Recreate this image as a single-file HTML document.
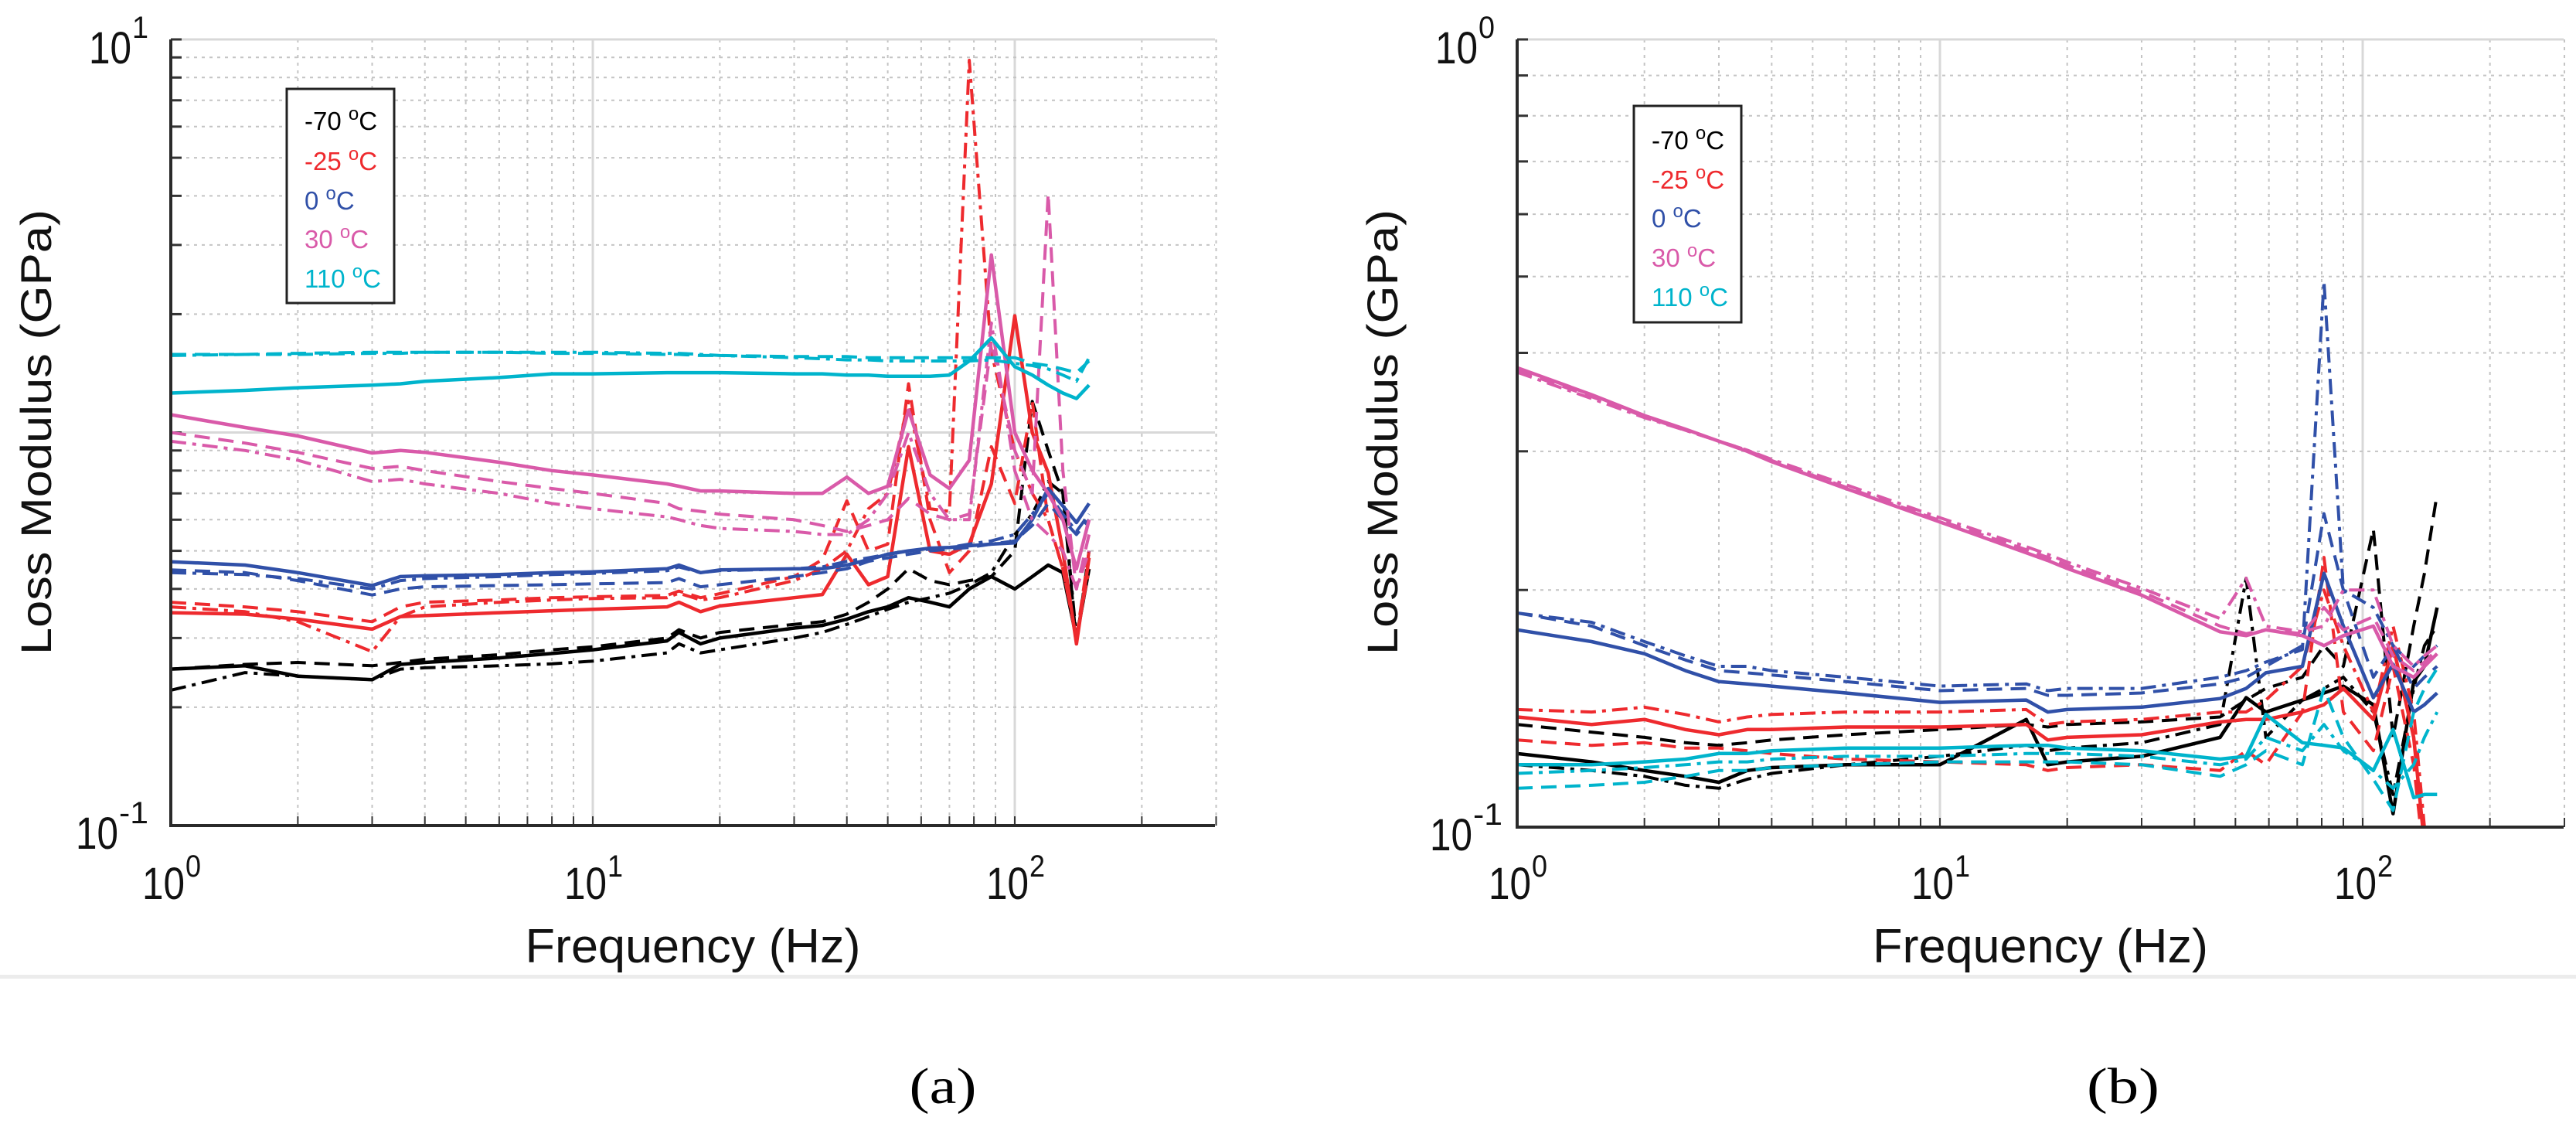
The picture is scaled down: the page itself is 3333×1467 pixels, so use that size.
<!DOCTYPE html>
<html><head><meta charset="utf-8"><style>
html,body{margin:0;padding:0;background:#fff;}
svg{display:block;}
text{font-family:"Liberation Sans",sans-serif;}
</style></head><body>
<svg id="fig" width="3333" height="1467" viewBox="0 0 3333 1467" xmlns="http://www.w3.org/2000/svg">
<rect x="0" y="1261" width="3333" height="5" fill="#ececec"/>
<text x="1220" y="1427" font-family="Liberation Serif, serif" font-size="66" text-anchor="middle" textLength="87" lengthAdjust="spacingAndGlyphs" style="font-family:'Liberation Serif',serif">(a)</text>
<text x="2747" y="1427" font-size="66" text-anchor="middle" textLength="94" lengthAdjust="spacingAndGlyphs" style="font-family:'Liberation Serif',serif">(b)</text>
</svg>
<script>
// ---------- Panel (a) data ----------
const freqA = [1,1.5,2,3,3.5,4,6,8,10,15,16,18,20,30,35,40,45,50,56,63,70,78,88,100,110,120,130,140,150];
const aK0 = [0.25,0.255,0.24,0.235,0.257,0.26,0.267,0.274,0.28,0.295,0.31,0.29,0.3,0.318,0.323,0.335,0.35,0.36,0.38,0.37,0.36,0.4,0.43,0.40,0.43,0.46,0.44,0.30,0.45];
const aK1 = [0.25,0.257,0.26,0.255,0.26,0.265,0.272,0.28,0.285,0.30,0.315,0.3,0.31,0.325,0.33,0.345,0.37,0.40,0.45,0.42,0.41,0.42,0.43,0.5,1.2,0.9,0.7,0.29,0.5];
const aK2 = [0.221,0.245,0.24,0.235,0.25,0.252,0.255,0.258,0.262,0.275,0.29,0.275,0.28,0.3,0.31,0.325,0.34,0.355,0.37,0.38,0.39,0.41,0.44,0.55,0.62,0.75,0.7,0.3,0.45];
const aR0 = [0.348,0.345,0.335,0.316,0.34,0.342,0.348,0.352,0.355,0.36,0.37,0.35,0.362,0.38,0.387,0.49,0.41,0.43,0.92,0.5,0.49,0.52,0.74,1.98,1.0,0.79,0.5,0.29,0.48];
const aR1 = [0.37,0.36,0.35,0.33,0.36,0.37,0.375,0.38,0.382,0.385,0.395,0.38,0.389,0.43,0.475,0.67,0.5,0.52,1.33,0.6,0.44,0.5,0.92,0.66,1.2,0.6,0.45,0.3,0.5];
const aR2 = [0.36,0.35,0.33,0.277,0.34,0.36,0.37,0.375,0.378,0.38,0.39,0.375,0.38,0.42,0.45,0.5,0.64,0.7,1.2,0.64,0.63,8.85,1.6,0.9,0.7,0.6,0.45,0.3,0.45];
const aB0 = [0.469,0.46,0.44,0.408,0.43,0.432,0.435,0.44,0.442,0.45,0.46,0.44,0.447,0.45,0.45,0.46,0.475,0.49,0.50,0.508,0.51,0.515,0.52,0.524,0.6,0.72,0.65,0.59,0.66];
const aB1 = [0.447,0.44,0.42,0.386,0.40,0.405,0.408,0.41,0.412,0.415,0.425,0.405,0.41,0.43,0.44,0.45,0.47,0.48,0.49,0.5,0.505,0.51,0.52,0.53,0.58,0.66,0.6,0.55,0.6];
const aB2 = [0.44,0.435,0.425,0.40,0.42,0.425,0.43,0.435,0.438,0.445,0.455,0.44,0.445,0.45,0.455,0.47,0.48,0.49,0.5,0.505,0.51,0.52,0.53,0.55,0.62,0.7,0.62,0.56,0.62];
const aP0 = [1.11,1.03,0.98,0.887,0.9,0.89,0.84,0.80,0.78,0.74,0.73,0.71,0.71,0.70,0.70,0.77,0.70,0.73,1.14,0.78,0.72,0.85,2.83,1.0,0.8,0.7,0.6,0.45,0.6];
const aP1 = [1.0,0.94,0.89,0.81,0.82,0.80,0.75,0.72,0.70,0.66,0.64,0.63,0.62,0.60,0.58,0.56,0.58,0.60,0.68,0.62,0.6,0.62,1.7,0.9,0.7,4.05,0.8,0.4,0.55];
const aP2 = [0.95,0.90,0.85,0.75,0.76,0.74,0.70,0.66,0.64,0.61,0.60,0.58,0.57,0.56,0.55,0.55,0.6,0.7,1.0,0.7,0.6,0.6,1.9,0.8,0.6,0.55,0.5,0.4,0.5];
const aC0 = [1.26,1.28,1.30,1.32,1.33,1.35,1.38,1.41,1.41,1.42,1.42,1.42,1.42,1.41,1.41,1.40,1.40,1.39,1.39,1.39,1.40,1.52,1.74,1.47,1.40,1.32,1.26,1.22,1.32];
const aC1 = [1.58,1.58,1.59,1.60,1.60,1.60,1.60,1.59,1.59,1.58,1.58,1.57,1.57,1.56,1.56,1.56,1.55,1.55,1.55,1.55,1.55,1.55,1.55,1.55,1.50,1.48,1.45,1.42,1.52];
const aC2 = [1.57,1.58,1.58,1.59,1.59,1.60,1.60,1.60,1.60,1.59,1.59,1.58,1.57,1.55,1.54,1.53,1.53,1.52,1.52,1.52,1.52,1.52,1.53,1.50,1.48,1.45,1.40,1.35,1.55];
// ---------- Panel (b) data ----------
const freqB = [1,1.5,2,2.5,3,3.5,4,6,10,16,18,20,30,46,53,59,72,81,90,106,118,132,140,150];
const bK0 = [0.124,0.121,0.118,0.116,0.114,0.118,0.119,0.12,0.12,0.137,0.12,0.121,0.123,0.13,0.146,0.14,0.145,0.148,0.151,0.143,0.104,0.153,0.16,0.19];
const bK1 = [0.135,0.132,0.13,0.128,0.127,0.128,0.129,0.131,0.133,0.135,0.134,0.135,0.136,0.138,0.145,0.15,0.155,0.17,0.16,0.239,0.13,0.18,0.21,0.265];
const bK2 = [0.12,0.118,0.116,0.113,0.112,0.115,0.117,0.12,0.123,0.127,0.125,0.126,0.128,0.135,0.207,0.13,0.145,0.15,0.155,0.14,0.11,0.15,0.17,0.18];
const bR0 = [0.138,0.135,0.137,0.133,0.131,0.133,0.133,0.134,0.134,0.135,0.129,0.13,0.131,0.136,0.137,0.137,0.14,0.143,0.15,0.137,0.17,0.13,0.095,0.09];
const bR1 = [0.129,0.127,0.128,0.126,0.126,0.125,0.124,0.122,0.121,0.12,0.118,0.119,0.12,0.118,0.125,0.12,0.14,0.22,0.14,0.125,0.16,0.12,0.09,0.09];
const bR2 = [0.141,0.14,0.142,0.139,0.136,0.138,0.139,0.14,0.14,0.141,0.135,0.136,0.137,0.14,0.14,0.145,0.16,0.2,0.17,0.14,0.18,0.14,0.1,0.09];
const bB0 = [0.178,0.172,0.166,0.158,0.153,0.152,0.151,0.148,0.144,0.145,0.14,0.141,0.142,0.1456,0.15,0.157,0.16,0.21,0.18,0.146,0.161,0.14,0.143,0.148];
const bB1 = [0.187,0.18,0.17,0.163,0.158,0.157,0.156,0.153,0.149,0.15,0.147,0.147,0.148,0.152,0.155,0.16,0.17,0.25,0.2,0.155,0.17,0.15,0.155,0.16];
const bB2 = [0.187,0.182,0.172,0.165,0.16,0.16,0.158,0.155,0.151,0.152,0.149,0.15,0.15,0.155,0.158,0.162,0.168,0.493,0.2,0.19,0.17,0.16,0.165,0.17];
const bP0 = [0.383,0.354,0.333,0.320,0.309,0.300,0.291,0.269,0.244,0.223,0.218,0.213,0.197,0.177,0.175,0.178,0.175,0.17,0.175,0.18,0.16,0.155,0.16,0.166];
const bP1 = [0.380,0.352,0.332,0.319,0.309,0.301,0.292,0.270,0.245,0.225,0.220,0.215,0.199,0.180,0.176,0.178,0.176,0.19,0.178,0.185,0.165,0.158,0.162,0.168];
const bP2 = [0.378,0.350,0.331,0.319,0.309,0.301,0.293,0.272,0.247,0.227,0.222,0.217,0.201,0.184,0.207,0.18,0.177,0.18,0.2,0.2,0.17,0.16,0.165,0.17];
const bC0 = [0.12,0.12,0.121,0.122,0.124,0.124,0.125,0.126,0.126,0.127,0.127,0.126,0.125,0.122,0.123,0.139,0.128,0.127,0.126,0.118,0.133,0.109,0.11,0.11];
const bC1 = [0.112,0.113,0.114,0.116,0.118,0.118,0.119,0.12,0.121,0.121,0.121,0.121,0.12,0.116,0.12,0.125,0.12,0.15,0.13,0.115,0.105,0.14,0.15,0.159];
const bC2 = [0.117,0.118,0.119,0.12,0.121,0.121,0.122,0.123,0.123,0.124,0.124,0.124,0.123,0.12,0.122,0.13,0.125,0.135,0.125,0.118,0.112,0.12,0.13,0.14];
const legendLabels = ['-70','-25','0','30','110'];
const xTickExps = ['0','1','2'];

const NS='http://www.w3.org/2000/svg';
const svg=document.getElementById('fig');
const COLORS=['#000000','#ee2a2e','#3050a8','#d95aa9','#00b4cc'];
const DASH=['none','20,11','20,8,5,8'];
function mk(tag,attrs,parent){const e=document.createElementNS(NS,tag);for(const k in attrs)e.setAttribute(k,attrs[k]);(parent||svg).appendChild(e);return e;}

function panel(cfg){
  const g=mk('g',{});
  
  
  const xS=f=>cfg.x0+cfg.xDec*Math.log10(f);
  const yS=v=>cfg.y1-cfg.yDec*(Math.log10(v)-cfg.yMinExp);
  const xEnd=cfg.x1;
  // grid
  for(let k=0;k<=2;k++)for(let m=1;m<=9;m++){const f=m*Math.pow(10,k);if(f>300)continue;const x=xS(f);
    const l=mk('line',{x1:x,x2:x,y1:cfg.top,y2:cfg.y1,stroke:m===1?'#d8d8d8':'#c4c4c4','stroke-width':m===1?3:2,'stroke-dasharray':m===1?'none':'4,6'},g);
    
    
    const t=mk('line',{x1:x,x2:x,y1:cfg.y1,y2:cfg.y1-12,stroke:'#333','stroke-width':2},g);
    
    
  }
  for(let k=cfg.yMinExp;k<=cfg.yMaxExp;k++)for(let m=1;m<=9;m++){const v=m*Math.pow(10,k);if(Math.log10(v)>cfg.yMaxExp+1e-9)continue;const y=yS(v);
    const l=mk('line',{x1:cfg.x0,x2:xEnd,y1:y,y2:y,stroke:m===1?'#d8d8d8':'#c4c4c4','stroke-width':m===1?3:2,'stroke-dasharray':m===1?'none':'4,6'},g);
    
    
    const t=mk('line',{x1:cfg.x0,x2:cfg.x0+14,y1:y,y2:y,stroke:'#333','stroke-width':3},g);
    
    
  }
  // clip
  const cp=mk('clipPath',{id:cfg.name+'-clip'},g);
  mk('rect',{x:cfg.x0,y:cfg.top,width:xEnd-cfg.x0,height:cfg.y1-cfg.top},cp);
  const lg=mk('g',{'clip-path':'url(#'+cfg.name+'-clip)'},g);
  cfg.series.forEach((s,i)=>{
    const ci=Math.floor(i/3),di=i%3;
    const pts=s.map((v,j)=>xS(cfg.freq[j]).toFixed(1)+','+yS(v).toFixed(1)).join(' ');
    const p=mk('polyline',{points:pts,fill:'none',stroke:COLORS[ci],'stroke-width':di===0?4.5:4,'stroke-dasharray':DASH[di],'stroke-linejoin':'round'},lg);
    
    
  });
  // axes
  const ax=mk('path',{d:`M${cfg.x0},${cfg.top} L${cfg.x0},${cfg.y1} L${xEnd},${cfg.y1}`,fill:'none',stroke:'#2a2a2a','stroke-width':4},g);
  
  
  // x tick labels
  xTickExps.forEach(e=>{const x=xS(Math.pow(10,+e));
    const t=mk('text',{x:x-37,y:1163,'font-size':58,textLength:55,lengthAdjust:'spacingAndGlyphs',fill:'#111'},g);
    t.textContent='10';
    
    
    const s=mk('text',{x:x+19,y:1134,'font-size':40,textLength:20,lengthAdjust:'spacingAndGlyphs',fill:'#111'},g);
    s.textContent=e;
    
    
  });
  // y tick labels
  cfg.yLabels.forEach(L=>{
    const t=mk('text',{x:L.x,y:L.y,'font-size':58,textLength:55,lengthAdjust:'spacingAndGlyphs',fill:'#111'},g);
    t.textContent='10';
    
    
    const s=mk('text',{x:L.x+56,y:L.y-33,'font-size':40,textLength:L.e.length>1?38:21,lengthAdjust:'spacingAndGlyphs',fill:'#111'},g);
    s.textContent=L.e;
    
    
  });
  // axis titles
  const xt=mk('text',{x:(cfg.x0+xEnd)/2,y:1245,'font-size':62,'text-anchor':'middle',textLength:434,lengthAdjust:'spacingAndGlyphs',fill:'#111'},g);
  xt.textContent='Frequency (Hz)';
  
  
  const yt=mk('text',{x:0,y:0,'font-size':56,'text-anchor':'middle',textLength:576,lengthAdjust:'spacingAndGlyphs',fill:'#111',transform:`translate(${cfg.yTitleX},559) rotate(-90)`},g);
  yt.textContent='Loss Modulus (GPa)';
  
  
  // legend
  const leg=mk('g',{},g);
  
  
  mk('rect',{x:cfg.leg.x,y:cfg.leg.y,width:cfg.leg.w,height:cfg.leg.h,fill:'#fff',stroke:'#222','stroke-width':3},leg);
  legendLabels.forEach((lab,i)=>{
    const t=mk('text',{x:cfg.leg.x+23,y:cfg.leg.base[i],'font-size':33,fill:COLORS[i]},leg);
    
    
    const a=mk('tspan',{},t);a.textContent=lab+' ';
    const o=mk('tspan',{dy:-13,'font-size':24},t);o.textContent='o';
    const c=mk('tspan',{dy:13},t);c.textContent='C';
  });
}

panel({name:'panel-a',freq:freqA,series:[aK0,aK1,aK2,aR0,aR1,aR2,aB0,aB1,aB2,aP0,aP1,aP2,aC0,aC1,aC2],
  x0:221,xDec:546,x1:1572,top:51,y1:1068,yDec:508.5,yMinExp:-1,yMaxExp:1,
  yLabels:[{x:98,y:1098,e:'-1'},{x:115,y:82,e:'1'}],yTitleX:66,
  leg:{x:371,y:115,w:139,h:277,base:[168,220,271,321,372]}});
panel({name:'panel-b',freq:freqB,series:[bK0,bK1,bK2,bR0,bR1,bR2,bB0,bB1,bB2,bP0,bP1,bP2,bC0,bC1,bC2],
  x0:1963,xDec:547,x1:3317,top:51,y1:1070,yDec:1019,yMinExp:-1,yMaxExp:0,
  yLabels:[{x:1850,y:1100,e:'-1'},{x:1857,y:82,e:'0'}],yTitleX:1808,
  leg:{x:2114,y:137,w:139,h:280,base:[193,244,294,345,396]}});
</script>
</body></html>
